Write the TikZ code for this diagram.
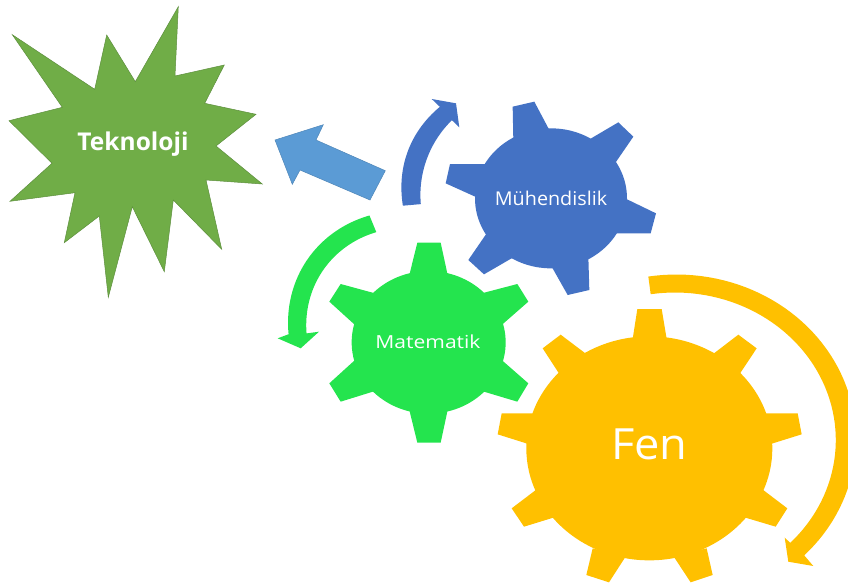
\documentclass[tikz,border=0pt]{standalone}
\usepackage{fontspec}
\setmainfont{Open Sans}
\definecolor{gblue}{HTML}{4472C4}
\definecolor{ggreen}{HTML}{24E44E}
\definecolor{gyellow}{HTML}{FFC000}
\definecolor{sgreen}{HTML}{70AD47}
\definecolor{sgreenline}{HTML}{5E8F3E}
\definecolor{lblue}{HTML}{5B9BD5}
\definecolor{lblueline}{HTML}{4F86B8}
\tikzset{
  zblue/.style={x=0.33333pt,y=-0.33333pt,shift={(270pt,-90pt)}},
  zyellow/.style={x=0.33333pt,y=-0.33333pt,shift={(490pt,-270pt)}},
  gearlabel/.style={text=white,inner sep=0pt,anchor=center},
}
\begin{document}
\begin{tikzpicture}[x=1pt,y=-1pt]
\useasboundingbox (0,0) rectangle (848,584);
\clip (0,0) rectangle (848,584);
% star
\draw[fill=sgreen,draw=sgreenline,line width=0.5pt,line join=miter]
 (178.3,6.7)--(175,76)--(224.3,65)--(204.7,103.3)--(256,114.3)--(216,146)--(262.3,184)--(206,180)--(221.7,249.3)--(173.3,200)--(164.3,271.7)--(132.3,206.7)--(108.3,297.3)--(99.3,216)--(64.3,242.7)--(75,192.7)--(10,201.3)--(52,163.3)--(9,120.7)--(62.3,107.3)--(12.3,34.7)--(94.7,89.3)--(106.7,35)--(135.3,81.7)--cycle;
\node[gearlabel,anchor=base,font=\bfseries\fontsize{24.5}{26}\selectfont] (tek) at (133,150) {Teknoloji};
% light blue arrow
\draw[fill=lblue,draw=lblueline,line width=0.5pt]
 (275,140)--(323.3,124.7)--(316,140)--(385.3,170.7)--(370,200)--(300,170)--(292.3,184.3)--cycle;
% blue curved arrow
\fill[gblue] plot[domain=175:226,samples=40] ({525+(122.6+2.5*sin((\x-175)*180/51))*cos(\x)},{195+(122.6+2.5*sin((\x-175)*180/51))*sin(\x)})
 --(431.7,99)--(456,103.3)--(459.3,127.3)--(451.7,120)
 --plot[domain=226:175,samples=30] ({525+104.6*cos(\x)},{195+104.6*sin(\x)})--cycle;
% green curved arrow
\fill[ggreen] plot[domain=250.5:178,samples=40] ({410+(121.5+3*sin((250.5-\x)*180/72.5))*cos(\x)},{330+(121.5+3*sin((250.5-\x)*180/72.5))*sin(\x)})
 --(277.7,338.3)--(300.7,348.3)--(319,331.7)--(307.3,333.3)
 --plot[domain=178:251,samples=40] ({410+(103.5+2*sin((251-\x)*180/73))*cos(\x)},{330+(103.5+2*sin((251-\x)*180/73))*sin(\x)})--cycle;
% yellow curved arrow
\fill[gyellow] plot[domain=-99:44.6,samples=60] ({676.4+179.5*cos(\x)},{439.5+165*sin(\x)})
 --(813.3,566)--(788.3,561.7)--(784.7,537.7)--(792.7,545)
 --plot[domain=44.2:-98.7,samples=60] ({675+160.8*cos(\x)},{440+147.5*sin(\x)})--cycle;
% blue gear
\begin{scope}[zblue]
\fill[gblue] (843,325) ellipse [x radius=76pt,y radius=70pt];
\fill[gblue] (730,150)--(728,50)--(793,35)--(838,120)--cycle;
\fill[gblue] (955,150)--(1045,97)--(1090,140)--(1035,220)--cycle;
\fill[gblue] (1065,325)--(1158,370)--(1142,430)--(1035,430)--cycle;
\fill[gblue] (955,500)--(958,600)--(893,615)--(845,530)--cycle;
\fill[gblue] (730,502)--(642,553)--(595,510)--(650,430)--cycle;
\fill[gblue] (620,322)--(527,280)--(540,222)--(650,222)--cycle;
\node[gearlabel,font=\fontsize{19}{21}\selectfont] (muh) at (843,325) {\scalebox{1.04}[1]{Mühendislik}};
\end{scope}
% green gear
\begin{scope}[zblue]
\fill[ggreen] (476,757) ellipse [x radius=77pt,y radius=71.3pt];
\fill[ggreen] (418,555)--(442,458)--(512,458)--(533,555)--cycle;
\fill[ggreen] (635,610)--(742,582)--(775,635)--(695,705)--cycle;
\fill[ggreen] (695,810)--(775,880)--(742,935)--(635,903)--cycle;
\fill[ggreen] (533,960)--(512,1058)--(442,1058)--(418,960)--cycle;
\fill[ggreen] (315,903)--(212,935)--(178,880)--(255,810)--cycle;
\fill[ggreen] (255,705)--(178,635)--(212,582)--(315,610)--cycle;
\node[gearlabel,font=\fontsize{18}{20}\selectfont] (mat) at (474,755) {\scalebox{1.17}[1]{Matematik}};
\end{scope}
% yellow gear
\begin{scope}[zyellow]
\fill[gyellow] (478,535) ellipse [x radius=123pt,y radius=112pt];
\fill[gyellow] (428,207)--(442,117)--(515,117)--(530,207)--cycle;
\fill[gyellow] (668,253)--(745,194)--(800,235)--(747,315)--cycle;
\fill[gyellow] (823,430)--(923,430)--(935,493)--(842,522)--cycle;
\fill[gyellow] (817,658)--(892,715)--(857,770)--(763,742)--cycle;
\fill[gyellow] (650,835)--(668,915)--(602,937)--(550,858)--cycle;
\fill[gyellow] (408,858)--(357,937)--(289,915)--(308,835)--cycle;
\fill[gyellow] (193,742)--(102,770)--(65,715)--(140,658)--cycle;
\fill[gyellow] (115,522)--(23,493)--(35,430)--(135,430)--cycle;
\fill[gyellow] (210,315)--(158,235)--(212,194)--(290,253)--cycle;
\node[gearlabel,font=\fontsize{43}{47}\selectfont] (fen) at (478,522) {\scalebox{1.05}[1]{Fen}};
\end{scope}
\end{tikzpicture}
\end{document}
